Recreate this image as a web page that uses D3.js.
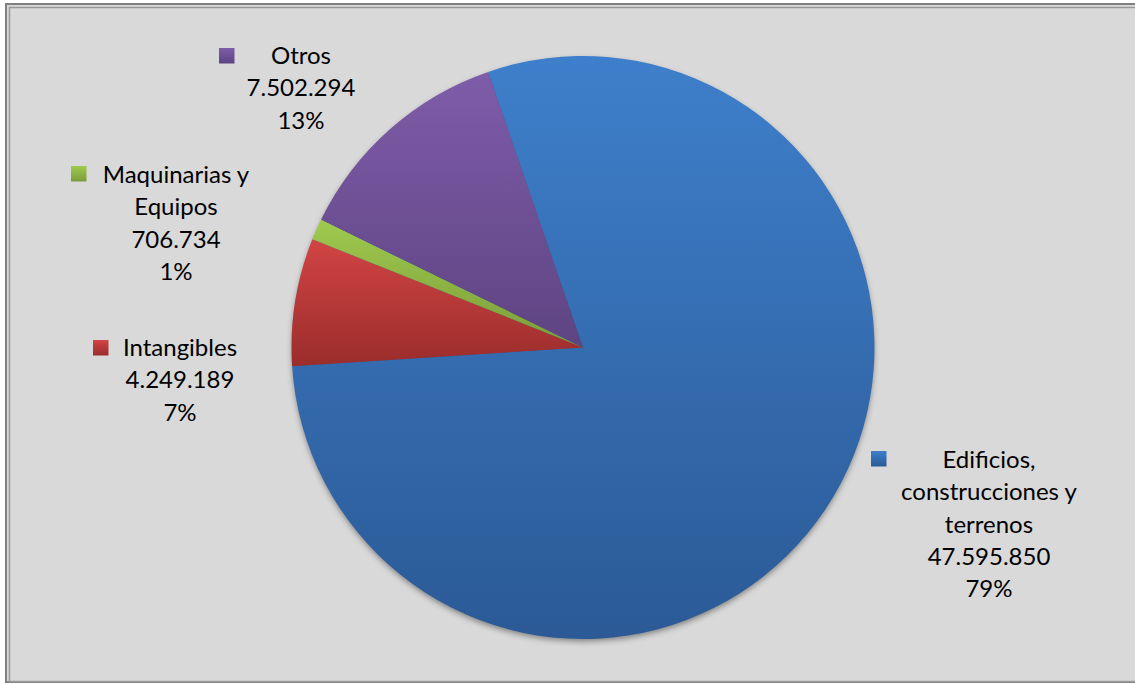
<!DOCTYPE html>
<html><head><meta charset="utf-8">
<script src="https://cdn.jsdelivr.net/npm/d3@7"></script>
<style>html,body{margin:0;padding:0;background:#fff;}svg{display:block;}</style>
</head><body>
<svg id="chart" width="1135" height="684"></svg>
<script>
const categories = ["Edificios, construcciones y terrenos", "Intangibles", "Maquinarias y Equipos", "Otros"];
const values = [47595850, 4249189, 706734, 7502294];
const percentLabels = ["79%", "7%", "1%", "13%"];
const labelLines = [
  ["Edificios,", "construcciones y", "terrenos"],
  ["Intangibles"],
  ["Maquinarias y", "Equipos"],
  ["Otros"]
];
const colorsTop = ["#3e7fcb", "#d24444", "#9fca4e", "#7f5ca9"];
const colorsBottom = ["#2b5a96", "#9a2d2b", "#7b9c39", "#5e4482"];
const firstSliceAngle = 341; // degrees
// label anchor positions (center x, first baseline y) and marker positions
const labelPos = [[989, 468], [180, 356], [176, 183], [301, 64]];
const markerPos = [[871, 451], [93, 340], [71, 166], [219, 48]];

const svg = d3.select("#chart");
const W = 1135, H = 684;
const defs = svg.append("defs");
const f = defs.append("filter").attr("id","shadow").attr("x","-10%").attr("y","-10%").attr("width","120%").attr("height","125%");
f.append("feDropShadow").attr("dx",0).attr("dy",3).attr("stdDeviation",3).attr("flood-color","#000").attr("flood-opacity",0.45);

categories.forEach((c,i)=>{
  const g = defs.append("linearGradient").attr("id","g"+i).attr("x1",0).attr("y1",0).attr("x2",0).attr("y2",1);
  g.append("stop").attr("offset","0%").attr("stop-color",colorsTop[i]);
  g.append("stop").attr("offset","100%").attr("stop-color",colorsBottom[i]);
});

// background & frame
svg.append("rect").attr("x",0).attr("y",0).attr("width",W).attr("height",H).attr("fill","#fff");
svg.append("rect").attr("x",6).attr("y",4).attr("width",W+10).attr("height",678).attr("fill","#d9d9d9").attr("stroke","#808080").attr("stroke-width",2);
svg.append("rect").attr("x",9.5).attr("y",7.5).attr("width",W+10).attr("height",674).attr("fill","none").attr("stroke","#9a9a9a").attr("stroke-width",1.5);

const cx = 583, cy = 347.5, R = 291.5;
const pie = d3.pie().sort(null).value(d=>d)
  .startAngle(firstSliceAngle*Math.PI/180 - 2*Math.PI)
  .endAngle(firstSliceAngle*Math.PI/180);
const arcs = pie(values);
const arc = d3.arc().innerRadius(0).outerRadius(R);

const gp = svg.append("g").attr("transform",`translate(${cx},${cy})`);
gp.append("circle").attr("r",R-1).attr("fill","#2b5a96").attr("filter","url(#shadow)");
gp.selectAll("path.slice").data(arcs).enter().append("path").attr("class","slice")
  .attr("d",arc).attr("fill",(d,i)=>`url(#g${i})`);

const fmtNum = v => d3.format(",")(v).replace(/,/g,".");

const lh = 32.3;
categories.forEach((c,i)=>{
  const lines = labelLines[i].concat([fmtNum(values[i]), percentLabels[i]]);
  const [lx,ly] = labelPos[i];
  const t = svg.append("text").attr("text-anchor","middle")
    .attr("font-family","Lato, 'Open Sans', sans-serif").attr("font-size",24).attr("fill","#000");
  lines.forEach((s,k)=>{
    t.append("tspan").attr("x",lx).attr("y",ly + k*lh).text(s);
  });
  const [mx,my] = markerPos[i];
  svg.append("rect").attr("x",mx).attr("y",my).attr("width",15.5).attr("height",15.5).attr("fill",`url(#g${i})`);
});
</script>
</body></html>
